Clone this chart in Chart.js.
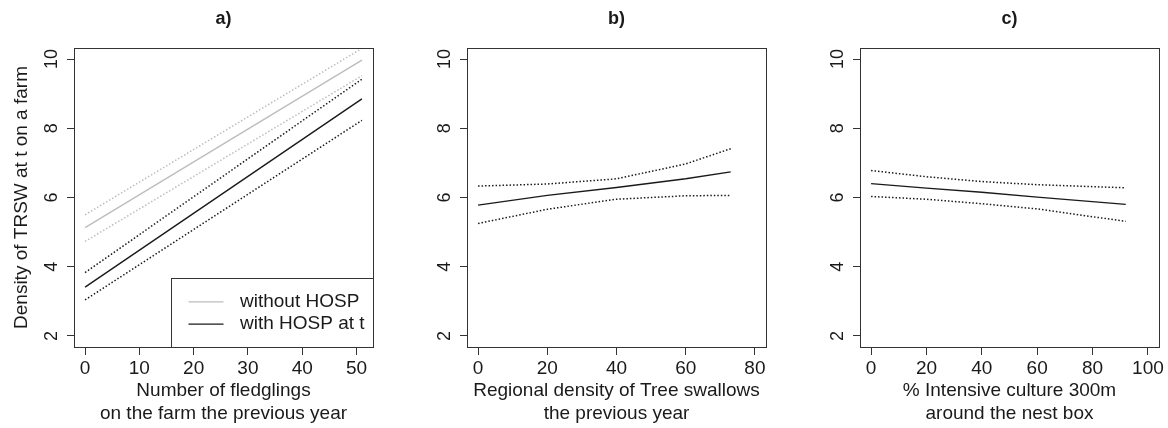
<!DOCTYPE html>
<html>
<head>
<meta charset="utf-8">
<script src="https://cdn.jsdelivr.net/npm/chart.js@4/dist/chart.umd.min.js"></script>
<style>
  body { margin: 0; background: #fff; }
  #wrap { position: relative; width: 1168px; height: 428px; background: #fff; }
  #wrap canvas { position: absolute; top: 0; }
</style>
</head>
<body>
<div id="wrap">
  <canvas id="pa" width="390" height="428" style="left:0px"></canvas>
  <canvas id="pb" width="390" height="428" style="left:390px"></canvas>
  <canvas id="pc" width="390" height="428" style="left:778px"></canvas>
</div>
<script>
// values
const yTicks = [2, 4, 6, 8, 10];

// a) number of fledglings
const xA = [0, 51];
const xTicksA = [0, 10, 20, 30, 40, 50];
const withoutFit = [5.13, 9.97];
const withoutLo = [4.73, 9.52];
const withoutHi = [5.50, 10.31];
const withFit = [3.41, 8.85];
const withLo = [3.04, 8.23];
const withHi = [3.83, 9.42];
const legendLabels = ["without HOSP", "with HOSP at t"];

// b) regional density
const xB = [0, 20, 40, 60, 73];
const xTicksB = [0, 20, 40, 60, 80];
const bFit = [5.78, 6.06, 6.29, 6.54, 6.74];
const bHi = [6.33, 6.39, 6.54, 6.97, 7.41];
const bLo = [5.25, 5.66, 5.95, 6.05, 6.06];

// c) % intensive culture
const xC = [0, 20, 40, 60, 92];
const xTicksC = [0, 20, 40, 60, 80, 100];
const cFit = [6.40, 6.27, 6.15, 6.01, 5.80];
const cHi = [6.78, 6.60, 6.46, 6.37, 6.28];
const cLo = [6.03, 5.95, 5.82, 5.67, 5.31];

const FONT = "'Liberation Sans', Arial, sans-serif";
const INK = "#1a1a1a";
const GREY = "#bdbdbd";

function pts(xs, ys) {
    return xs.map((x, i) => ({x: x, y: ys[i]}));
}

function line(label, xs, ys, color, dotted) {
    return {
        label: label,
        data: pts(xs, ys),
        borderColor: color,
        borderWidth: dotted ? 1.5 : 1.4,
        borderDash: dotted ? [1.5, 2] : [],
        pointRadius: 0,
        tension: 0,
        fill: false
    };
}

// box round the plot region, like R's bty="o"
const boxPlugin = {
    id: "box",
    afterDatasetsDraw(chart) {
        const a = chart.chartArea;
        const ctx = chart.ctx;
        ctx.save();
        ctx.strokeStyle = "#333";
        ctx.lineWidth = 1;
        ctx.strokeRect(Math.round(a.left) + 0.5, Math.round(a.top) + 0.5,
                       Math.round(a.right - a.left), Math.round(a.bottom - a.top));
        ctx.restore();
    }
};

// bottom right legend with a frame
const legendPlugin = {
    id: "boxlegend",
    afterDraw(chart, args, opts) {
        if (!opts.labels) return;
        const a = chart.chartArea;
        const ctx = chart.ctx;
        const w = 202, h = 69;
        const left = Math.round(a.right - w) + 0.5;
        const top = Math.round(a.bottom - h) + 0.5;
        ctx.save();
        ctx.fillStyle = "#fff";
        ctx.fillRect(left, top, w, h);
        ctx.strokeStyle = "#333";
        ctx.lineWidth = 1;
        ctx.strokeRect(left, top, w, h);
        ctx.font = "19px " + FONT;
        ctx.textBaseline = "middle";
        opts.labels.forEach((lab, i) => {
            const ds = chart.data.datasets.find(d => d.label == lab);
            const y = top + 23.3 + i * 22.3;
            ctx.strokeStyle = ds.borderColor;
            ctx.lineWidth = 1.3;
            ctx.beginPath();
            ctx.moveTo(left + 17, y);
            ctx.lineTo(left + 52, y);
            ctx.stroke();
            ctx.fillStyle = INK;
            ctx.fillText(lab, left + 68.5, y);
        });
        ctx.restore();
    }
};

function panel(id, p) {
    return new Chart(document.getElementById(id), {
        type: "line",
        data: {datasets: p.datasets},
        plugins: [boxPlugin, legendPlugin],
        options: {
            responsive: false,
            animation: false,
            devicePixelRatio: 1,
            layout: {padding: {left: 0, right: p.right, bottom: 0, top: 0}},
            plugins: {
                legend: {display: false},
                tooltip: {enabled: false},
                boxlegend: {labels: p.legend},
                title: {
                    display: true,
                    text: p.title,
                    fullSize: false,
                    color: INK,
                    font: {family: FONT, size: 18, weight: "bold", lineHeight: 1.2},
                    padding: {top: 8.5, bottom: 17.9}
                }
            },
            scales: {
                x: {
                    type: "linear",
                    min: p.xmin,
                    max: p.xmax,
                    afterBuildTicks: s => { s.ticks = p.xticks.map(v => ({value: v})); },
                    afterFit: s => { s.height = 81; },
                    border: {display: false},
                    grid: {drawOnChartArea: false, drawTicks: true, tickLength: 8, color: "#333"},
                    ticks: {color: INK, font: {family: FONT, size: 19}, padding: 2, maxRotation: 0},
                    title: {
                        display: true,
                        text: p.xtitle,
                        color: INK,
                        font: {family: FONT, size: 19, lineHeight: 1.2},
                        padding: {top: 0, bottom: 3}
                    }
                },
                y: {
                    type: "linear",
                    min: 1.68,
                    max: 10.32,
                    afterBuildTicks: s => { s.ticks = yTicks.map(v => ({value: v})); },
                    afterFit: s => { s.width = p.left; },
                    border: {display: false},
                    grid: {drawOnChartArea: false, drawTicks: true, tickLength: 7, color: "#333"},
                    ticks: {
                        color: INK,
                        font: {family: FONT, size: 18},
                        minRotation: 90,
                        maxRotation: 90,
                        crossAlign: "center",
                        padding: 5
                    },
                    title: {
                        display: !!p.ytitle,
                        text: p.ytitle || "",
                        color: INK,
                        font: {family: FONT, size: 19, lineHeight: 1.2},
                        padding: {top: 10, bottom: 0}
                    }
                }
            }
        }
    });
}

panel("pa", {
    title: "a)",
    left: 74, right: 17,
    xmin: -2.04, xmax: 53.04, xticks: xTicksA,
    xtitle: ["Number of fledglings", "on the farm the previous year"],
    ytitle: "Density of TRSW at t on a farm",
    legend: legendLabels,
    datasets: [
        line("without HOSP", xA, withoutFit, GREY, false),
        line("", xA, withoutLo, GREY, true),
        line("", xA, withoutHi, GREY, true),
        line("with HOSP at t", xA, withFit, INK, false),
        line("", xA, withLo, INK, true),
        line("", xA, withHi, INK, true)
    ]
});

panel("pb", {
    title: "b)",
    left: 77, right: 14,
    xmin: -3.2, xmax: 83.2, xticks: xTicksB,
    xtitle: ["Regional density of Tree swallows", "the previous year"],
    datasets: [
        line("fit", xB, bFit, INK, false),
        line("upper", xB, bHi, INK, true),
        line("lower", xB, bLo, INK, true)
    ]
});

panel("pc", {
    title: "c)",
    left: 82, right: 9,
    xmin: -4, xmax: 104, xticks: xTicksC,
    xtitle: ["% Intensive culture 300m", "around the nest box"],
    datasets: [
        line("fit", xC, cFit, INK, false),
        line("upper", xC, cHi, INK, true),
        line("lower", xC, cLo, INK, true)
    ]
});
</script>
</body>
</html>
